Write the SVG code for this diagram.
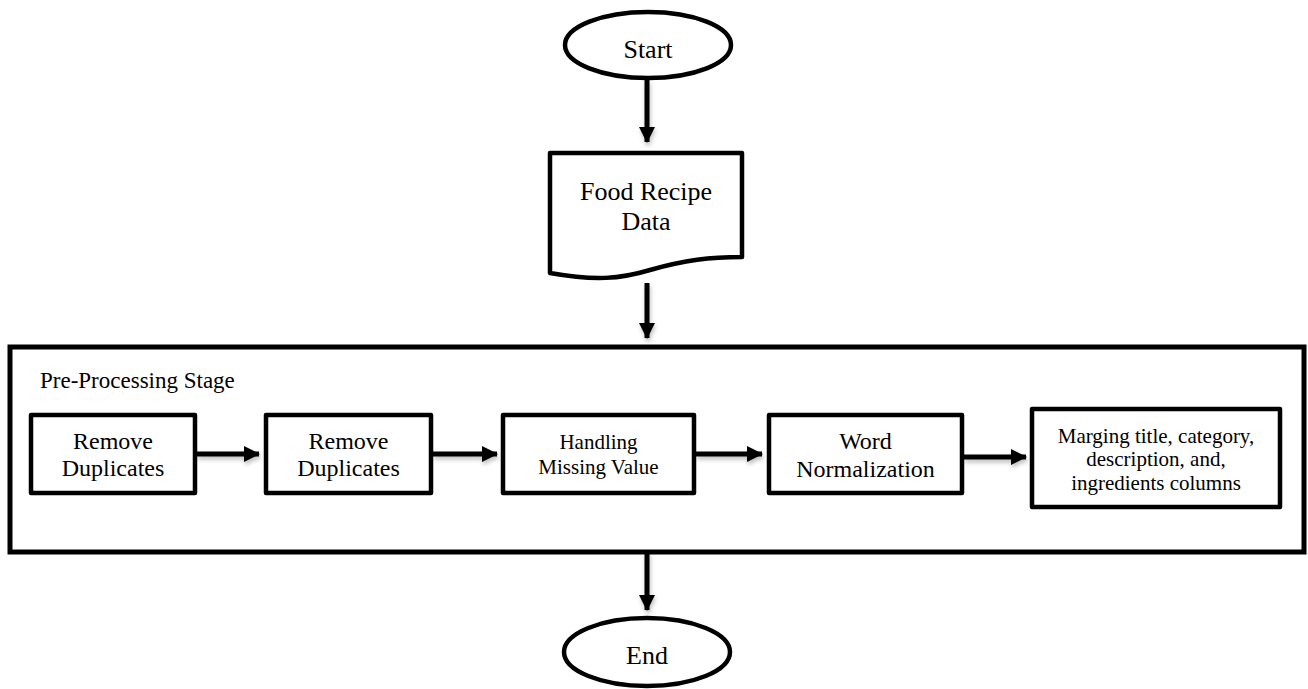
<svg xmlns="http://www.w3.org/2000/svg" width="1308" height="689" viewBox="0 0 1308 689">
<style>
.shape{fill:#fff;stroke:#000;stroke-width:4.5;stroke-linejoin:round}
.frame{fill:#fff;stroke:#000;stroke-width:5}
.conn{stroke:#000;stroke-width:5;fill:none}
text{font-family:"Liberation Serif","Times New Roman",serif;fill:#000;text-anchor:middle}
.t26{font-size:26px}
.t24{font-size:24px}
.t21{font-size:21px}
.lbl{font-size:23px;text-anchor:start}
</style>
<defs>
<marker id="ah" viewBox="0 0 16 16" refX="15" refY="8" markerWidth="16" markerHeight="16" markerUnits="userSpaceOnUse" orient="auto">
<path d="M0,0 L16,8 L0,16 Z" fill="#000"/>
</marker>
<filter id="sh" x="-20%" y="-50%" width="140%" height="200%">
<feDropShadow dx="1" dy="3" stdDeviation="2" flood-color="#000" flood-opacity="0.25"/>
</filter>
</defs>
<rect width="1308" height="689" fill="#fff"/>
<g id="stage">
<rect class="frame" x="10" y="347" width="1294" height="205"/>
<text class="lbl" x="40" y="388">Pre-Processing Stage</text>
</g>
<g id="start">
<ellipse class="shape" cx="648" cy="45" rx="83" ry="33"/>
<text class="t26" x="648" y="58">Start</text>
</g>
<g id="data">
<path class="shape" d="M550,153 L742,153 L742,257 C710,257 685,260 650,270 C620,279 595,281 550,273 Z"/>
<text class="t26" x="646" y="200">Food Recipe</text>
<text class="t26" x="646" y="230">Data</text>
</g>
<g id="rd1">
<rect class="shape" x="31" y="415" width="164" height="78"/>
<text class="t24" x="113" y="449">Remove</text>
<text class="t24" x="113" y="476">Duplicates</text>
</g>
<g id="rd2">
<rect class="shape" x="266" y="415" width="165" height="78"/>
<text class="t24" x="348.5" y="449">Remove</text>
<text class="t24" x="348.5" y="476">Duplicates</text>
</g>
<g id="hmv">
<rect class="shape" x="503" y="415" width="191" height="78"/>
<text class="t21" x="598.5" y="449">Handling</text>
<text class="t21" x="598.5" y="474">Missing Value</text>
</g>
<g id="wn">
<rect class="shape" x="769" y="415" width="193" height="78"/>
<text class="t24" x="865.5" y="449">Word</text>
<text class="t24" x="865.5" y="477">Normalization</text>
</g>
<g id="merge">
<rect class="shape" x="1032" y="409" width="248" height="98"/>
<text class="t21" x="1156" y="443">Marging title, category,</text>
<text class="t21" x="1156" y="466">description, and,</text>
<text class="t21" x="1156" y="490">ingredients columns</text>
</g>
<g id="connectors" filter="url(#sh)">
<line class="conn" x1="647" y1="80" x2="647" y2="142" marker-end="url(#ah)"/>
<line class="conn" x1="647" y1="283" x2="647" y2="338" marker-end="url(#ah)"/>
<line class="conn" x1="647" y1="552" x2="647" y2="610" marker-end="url(#ah)"/>
<line class="conn" x1="197" y1="454" x2="259" y2="454" marker-end="url(#ah)"/>
<line class="conn" x1="433" y1="454" x2="497" y2="454" marker-end="url(#ah)"/>
<line class="conn" x1="696" y1="454" x2="762" y2="454" marker-end="url(#ah)"/>
<line class="conn" x1="964" y1="457" x2="1026" y2="457" marker-end="url(#ah)"/>
</g>
<g id="end">
<ellipse class="shape" cx="647" cy="652" rx="83" ry="34"/>
<text class="t26" x="647" y="664">End</text>
</g>
</svg>
